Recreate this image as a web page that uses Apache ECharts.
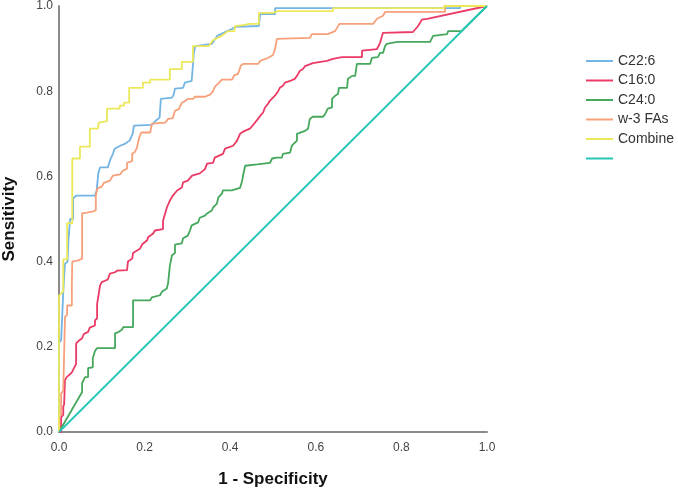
<!DOCTYPE html>
<html>
<head>
<meta charset="utf-8">
<script src="https://cdn.jsdelivr.net/npm/echarts@6/dist/echarts.min.js"></script>
<style>
  html, body { margin: 0; padding: 0; background: #fff; }
  #main { width: 678px; height: 492px; }
</style>
</head>
<body>
<div id="main"></div>
<script>
// ROC curves, points are [1 - specificity, sensitivity]
var names = ['C22:6', 'C16:0', 'C24:0', 'w-3 FAs', 'Combine', ' '];
var colors = ['#72b4e4', '#ea3a65', '#45a85c', '#f7a07a', '#ebe85a', '#26c6b6'];

var c226 = [[0,0],[0,0.21],[0.005,0.215],[0.01,0.33],[0.014,0.33],[0.014,0.395],[0.02,0.40],[0.022,0.45],[0.026,0.5],
  [0.033,0.5],[0.033,0.548],[0.04,0.555],[0.084,0.555],[0.088,0.567],[0.092,0.609],[0.096,0.621],[0.114,0.621],
  [0.12,0.64],[0.126,0.653],[0.13,0.665],[0.143,0.672],[0.155,0.677],[0.165,0.684],[0.172,0.70],[0.175,0.719],
  [0.217,0.721],[0.225,0.73],[0.235,0.738],[0.238,0.782],[0.264,0.785],[0.268,0.792],[0.271,0.806],[0.29,0.808],
  [0.294,0.82],[0.31,0.824],[0.315,0.888],[0.318,0.906],[0.357,0.911],[0.37,0.93],[0.393,0.941],[0.404,0.946],
  [0.411,0.951],[0.467,0.953],[0.47,0.981],[0.505,0.981],[0.505,0.995],[0.937,0.995],[0.937,1],[1,1]];

var c160 = [[0,0],[0.005,0],[0.005,0.035],[0.01,0.04],[0.01,0.06],[0.012,0.065],[0.014,0.065],[0.014,0.122],
  [0.019,0.13],[0.025,0.135],[0.03,0.14],[0.035,0.15],[0.04,0.16],[0.04,0.208],[0.047,0.215],[0.054,0.22],
  [0.058,0.23],[0.068,0.235],[0.072,0.245],[0.084,0.25],[0.084,0.262],[0.089,0.267],[0.089,0.30],[0.096,0.344],
  [0.1,0.352],[0.114,0.358],[0.119,0.372],[0.131,0.375],[0.136,0.379],[0.159,0.38],[0.161,0.40],[0.171,0.407],
  [0.173,0.42],[0.189,0.43],[0.194,0.44],[0.206,0.45],[0.208,0.457],[0.22,0.466],[0.224,0.473],[0.243,0.476],
  [0.243,0.496],[0.248,0.513],[0.252,0.527],[0.259,0.543],[0.266,0.555],[0.276,0.567],[0.287,0.574],[0.29,0.586],
  [0.301,0.59],[0.311,0.602],[0.329,0.607],[0.341,0.617],[0.346,0.63],[0.36,0.632],[0.364,0.644],[0.383,0.653],
  [0.388,0.665],[0.407,0.672],[0.416,0.684],[0.423,0.70],[0.43,0.705],[0.446,0.712],[0.453,0.72],[0.465,0.735],
  [0.47,0.742],[0.477,0.75],[0.481,0.761],[0.488,0.77],[0.493,0.778],[0.5,0.785],[0.505,0.79],[0.512,0.80],
  [0.516,0.808],[0.523,0.813],[0.528,0.82],[0.54,0.824],[0.551,0.829],[0.556,0.836],[0.563,0.848],[0.57,0.852],
  [0.575,0.859],[0.593,0.866],[0.626,0.871],[0.64,0.876],[0.661,0.88],[0.708,0.88],[0.708,0.895],[0.743,0.899],
  [0.75,0.913],[0.757,0.937],[0.827,0.939],[0.839,0.953],[0.848,0.968],[0.86,0.97],[1,1]];

var c240 = [[0,0],[0.054,0.094],[0.054,0.115],[0.061,0.129],[0.068,0.129],[0.068,0.15],[0.079,0.152],[0.079,0.173],
  [0.084,0.19],[0.089,0.197],[0.131,0.197],[0.131,0.232],[0.136,0.233],[0.147,0.24],[0.15,0.246],[0.173,0.246],
  [0.173,0.309],[0.213,0.309],[0.217,0.316],[0.236,0.321],[0.241,0.33],[0.252,0.337],[0.255,0.35],[0.259,0.39],
  [0.264,0.415],[0.271,0.42],[0.271,0.44],[0.287,0.443],[0.29,0.455],[0.301,0.461],[0.306,0.473],[0.31,0.485],
  [0.325,0.492],[0.329,0.503],[0.341,0.508],[0.346,0.513],[0.357,0.52],[0.36,0.527],[0.369,0.536],[0.372,0.55],
  [0.381,0.56],[0.383,0.567],[0.404,0.567],[0.407,0.571],[0.423,0.573],[0.428,0.59],[0.43,0.602],[0.435,0.625],
  [0.463,0.628],[0.465,0.632],[0.493,0.632],[0.498,0.642],[0.509,0.644],[0.521,0.644],[0.523,0.653],[0.54,0.656],
  [0.544,0.672],[0.556,0.684],[0.556,0.70],[0.575,0.707],[0.582,0.712],[0.586,0.735],[0.593,0.74],[0.617,0.74],
  [0.621,0.745],[0.628,0.759],[0.638,0.762],[0.638,0.782],[0.645,0.789],[0.652,0.794],[0.654,0.808],[0.673,0.808],
  [0.675,0.829],[0.685,0.836],[0.692,0.836],[0.696,0.864],[0.727,0.864],[0.731,0.878],[0.745,0.88],[0.75,0.89],
  [0.757,0.89],[0.762,0.906],[0.766,0.911],[0.79,0.916],[0.867,0.916],[0.874,0.93],[0.907,0.934],[0.909,0.941],
  [0.94,0.941],[1,1]];

var w3fa = [[0,0],[0,0.04],[0.005,0.04],[0.005,0.09],[0.01,0.098],[0.014,0.098],[0.014,0.27],[0.019,0.275],
  [0.019,0.297],[0.03,0.297],[0.03,0.345],[0.031,0.40],[0.045,0.403],[0.054,0.407],[0.054,0.513],[0.065,0.515],
  [0.08,0.518],[0.086,0.52],[0.086,0.555],[0.09,0.572],[0.1,0.576],[0.105,0.585],[0.119,0.59],[0.126,0.602],
  [0.143,0.605],[0.15,0.614],[0.159,0.618],[0.159,0.632],[0.171,0.636],[0.171,0.653],[0.177,0.657],[0.182,0.667],
  [0.185,0.667],[0.187,0.69],[0.192,0.703],[0.213,0.703],[0.217,0.724],[0.248,0.726],[0.255,0.735],[0.266,0.737],
  [0.271,0.754],[0.28,0.758],[0.287,0.773],[0.295,0.777],[0.301,0.782],[0.313,0.782],[0.318,0.787],[0.341,0.787],
  [0.353,0.792],[0.36,0.80],[0.364,0.81],[0.376,0.822],[0.38,0.827],[0.404,0.827],[0.41,0.838],[0.418,0.84],
  [0.425,0.86],[0.43,0.864],[0.465,0.864],[0.47,0.871],[0.488,0.878],[0.5,0.885],[0.505,0.9],[0.509,0.923],
  [0.586,0.925],[0.591,0.934],[0.628,0.934],[0.645,0.941],[0.655,0.958],[0.734,0.958],[0.743,0.97],[0.757,0.977],
  [0.762,0.986],[0.902,0.986],[0.902,1],[1,1]];

var combine = [[0,0],[0,0.32],[0.01,0.33],[0.01,0.405],[0.019,0.405],[0.019,0.49],[0.031,0.49],[0.031,0.642],
  [0.049,0.642],[0.049,0.67],[0.072,0.67],[0.072,0.712],[0.091,0.712],[0.093,0.726],[0.112,0.73],[0.112,0.759],
  [0.142,0.759],[0.142,0.766],[0.152,0.766],[0.152,0.773],[0.164,0.773],[0.164,0.808],[0.196,0.808],[0.196,0.82],
  [0.213,0.82],[0.213,0.827],[0.259,0.827],[0.259,0.852],[0.287,0.852],[0.287,0.869],[0.313,0.869],[0.313,0.906],
  [0.35,0.906],[0.36,0.92],[0.38,0.93],[0.395,0.941],[0.41,0.941],[0.411,0.953],[0.43,0.955],[0.445,0.958],
  [0.467,0.958],[0.467,0.984],[0.5,0.984],[0.51,0.988],[0.64,0.988],[0.64,0.995],[0.9,0.995],[0.9,1],[1,1]];

var refLine = [[0,0],[1,1]];

var curves = [c226, c160, c240, w3fa, combine, refLine];

var chart = echarts.init(document.getElementById('main'));

var series = curves.map(function (d, i) {
    return {
        name: names[i],
        type: 'line',
        data: d,
        symbol: 'none',
        lineStyle: { width: 1.8, color: colors[i] },
        itemStyle: { color: colors[i] }
    };
});

chart.setOption({
    animation: false,
    grid: { left: 59, right: 191, top: 6, bottom: 60, containLabel: false, outerBoundsMode: 'none' },
    legend: {
        orient: 'vertical',
        left: 586,
        top: 54,
        padding: 0,
        itemWidth: 27,
        itemHeight: 2,
        itemGap: 5.5,
        selectedMode: false,
        textStyle: { fontFamily: 'Liberation Sans', fontSize: 14, color: '#333', lineHeight: 14 },
        data: names.map(function (n) { return { name: n, icon: 'rect' }; })
    },
    xAxis: {
        type: 'value',
        min: 0, max: 1, interval: 0.2,
        name: '1 - Specificity',
        nameLocation: 'middle',
        nameGap: 39,
        nameTextStyle: { fontFamily: 'Liberation Sans', fontSize: 17, fontWeight: 'bold', color: '#111' },
        axisLine: { lineStyle: { color: '#8a8a8a', width: 2 } },
        axisTick: { show: false },
        splitLine: { show: false },
        axisLabel: {
            margin: 10, color: '#444', fontFamily: 'Liberation Sans', fontSize: 12,
            formatter: function (v) { return v.toFixed(1); }
        }
    },
    yAxis: {
        type: 'value',
        min: 0, max: 1, interval: 0.2,
        name: 'Sensitivity',
        nameLocation: 'middle',
        nameGap: 41,
        nameTextStyle: { fontFamily: 'Liberation Sans', fontSize: 17, fontWeight: 'bold', color: '#111' },
        axisLine: { show: true, lineStyle: { color: '#8a8a8a', width: 2 } },
        axisTick: { show: false },
        splitLine: { show: false },
        axisLabel: {
            margin: 6, color: '#444', fontFamily: 'Liberation Sans', fontSize: 12,
            formatter: function (v) { return v.toFixed(1); }
        }
    },
    series: series
});
</script>
</body>
</html>
